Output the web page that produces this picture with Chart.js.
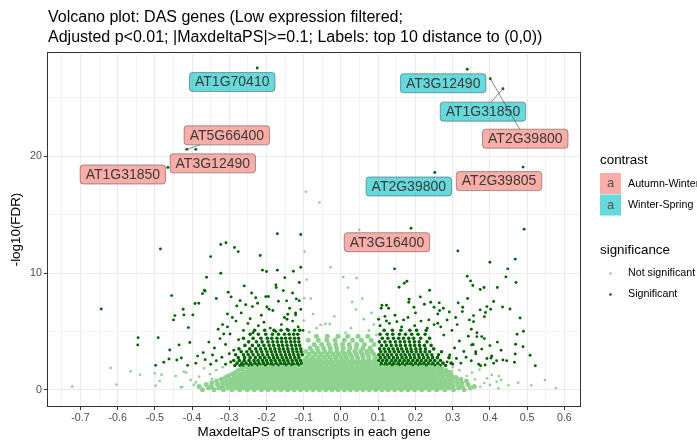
<!DOCTYPE html>
<html>
<head>
<meta charset="utf-8">
<script src="https://cdn.jsdelivr.net/npm/chart.js@4.4.1/dist/chart.umd.min.js"></script>
<style>
  html, body { margin: 0; padding: 0; background: #fff; }
</style>
</head>
<body>
<canvas id="Chart" width="697" height="441"></canvas>
<script>
// axis breaks
const xTicks = [-0.7, -0.6, -0.5, -0.4, -0.3, -0.2, -0.1, 0, 0.1, 0.2, 0.3, 0.4, 0.5, 0.6];
const xMinorTicks = [-0.75, -0.65, -0.55, -0.45, -0.35, -0.25, -0.15, -0.05, 0.05, 0.15, 0.25, 0.35, 0.45, 0.55];
const yTicks = [0, 10, 20];
const yMinorTicks = [5, 15, 25];

const contrastLevels = ["Autumn-Winter", "Winter-Spring"];
const significanceLevels = ["Not significant", "Significant"];

// labelled genes (top 10 distance to (0,0))
const labelGene = ["AT1G70410", "AT5G66400", "AT3G12490", "AT1G31850", "AT3G12490",
  "AT1G31850", "AT2G39800", "AT2G39800", "AT2G39805", "AT3G16400"];
const labelContrast = ["Winter-Spring", "Autumn-Winter", "Autumn-Winter", "Autumn-Winter", "Winter-Spring",
  "Winter-Spring", "Autumn-Winter", "Winter-Spring", "Autumn-Winter", "Autumn-Winter"];
const labelX = [-0.225, -0.414, -0.39, -0.465, 0.339, 0.435, 0.401, 0.252, 0.489, 0.188];
const labelY = [27.56, 20.6, 20.6, 19.05, 27.46, 25.8, 26.65, 18.62, 19.08, 13.85];

// not significant: dense band, rows of [y, [x...]]
const notSigRows = [
  [0.03, [-0.372,-0.341,-0.316,-0.293,-0.272,-0.252,-0.233,-0.214,-0.196,-0.178,-0.161,-0.143,-0.126,-0.109,-0.092,-0.075,-0.058,-0.041,-0.024,-0.008,0.009,0.025,0.042,0.059,0.076,0.093,0.11,0.127,0.144,0.162,0.18,0.198,0.217,0.237,0.257,0.279,0.302,0.331]],
  [0.17, [-0.356,-0.328,-0.304,-0.282,-0.262,-0.243,-0.224,-0.205,-0.187,-0.169,-0.152,-0.134,-0.117,-0.1,-0.083,-0.066,-0.05,-0.033,-0.016,0.001,0.017,0.034,0.05,0.067,0.084,0.101,0.118,0.135,0.153,0.171,0.189,0.207,0.227,0.247,0.268,0.29,0.316,0.347]],
  [0.31, [-0.381,-0.348,-0.318,-0.295,-0.274,-0.254,-0.235,-0.216,-0.197,-0.179,-0.161,-0.144,-0.127,-0.11,-0.093,-0.076,-0.059,-0.042,-0.025,-0.009,0.008,0.024,0.041,0.058,0.075,0.092,0.109,0.126,0.143,0.161,0.179,0.197,0.216,0.236,0.256,0.278,0.301,0.326,0.358]],
  [0.46, [-0.362,-0.332,-0.307,-0.285,-0.264,-0.244,-0.225,-0.206,-0.188,-0.17,-0.153,-0.135,-0.118,-0.101,-0.084,-0.067,-0.051,-0.034,-0.017,0.0,0.016,0.033,0.049,0.066,0.083,0.1,0.117,0.134,0.152,0.17,0.188,0.206,0.226,0.246,0.267,0.289,0.313,0.341]],
  [0.61, [-0.347,-0.319,-0.296,-0.275,-0.255,-0.236,-0.217,-0.198,-0.18,-0.162,-0.145,-0.128,-0.111,-0.094,-0.077,-0.06,-0.043,-0.026,-0.01,0.007,0.023,0.04,0.057,0.074,0.091,0.108,0.125,0.142,0.16,0.178,0.196,0.215,0.235,0.255,0.277,0.299,0.324]],
  [0.76, [-0.334,-0.308,-0.286,-0.265,-0.245,-0.226,-0.207,-0.189,-0.171,-0.154,-0.136,-0.119,-0.102,-0.085,-0.068,-0.052,-0.035,-0.018,-0.001,0.015,0.032,0.048,0.065,0.082,0.099,0.116,0.133,0.151,0.169,0.187,0.205,0.225,0.245,0.266,0.288,0.311,0.337]],
  [0.91, [-0.321,-0.297,-0.276,-0.256,-0.237,-0.218,-0.199,-0.181,-0.163,-0.146,-0.129,-0.112,-0.095,-0.078,-0.061,-0.044,-0.027,-0.011,0.006,0.022,0.039,0.056,0.073,0.09,0.107,0.124,0.141,0.159,0.177,0.195,0.214,0.234,0.254,0.276,0.298,0.322]],
  [1.06, [-0.31,-0.287,-0.266,-0.246,-0.227,-0.208,-0.19,-0.172,-0.155,-0.137,-0.12,-0.103,-0.086,-0.069,-0.053,-0.036,-0.019,-0.002,0.014,0.031,0.047,0.064,0.081,0.098,0.115,0.132,0.15,0.168,0.186,0.204,0.224,0.244,0.265,0.287,0.309]],
  [1.21, [-0.302,-0.277,-0.257,-0.238,-0.219,-0.2,-0.182,-0.164,-0.147,-0.13,-0.113,-0.096,-0.079,-0.062,-0.045,-0.028,-0.012,0.005,0.021,0.038,0.055,0.072,0.089,0.106,0.123,0.14,0.158,0.176,0.194,0.213,0.233,0.253,0.274,0.297]],
  [1.36, [-0.291,-0.268,-0.248,-0.228,-0.209,-0.191,-0.173,-0.156,-0.138,-0.121,-0.104,-0.087,-0.07,-0.054,-0.037,-0.02,-0.003,0.013,0.03,0.046,0.063,0.08,0.097,0.114,0.131,0.149,0.167,0.185,0.203,0.222,0.242,0.263,0.285]],
  [1.51, [-0.283,-0.259,-0.239,-0.22,-0.201,-0.183,-0.165,-0.148,-0.131,-0.114,-0.097,-0.08,-0.063,-0.046,-0.029,-0.013,0.004,0.02,0.037,0.054,0.071,0.088,0.105,0.122,0.139,0.157,0.175,0.193,0.212,0.231,0.251,0.273,0.294]],
  [1.66, [-0.276,-0.25,-0.229,-0.21,-0.192,-0.174,-0.157,-0.139,-0.122,-0.105,-0.088,-0.071,-0.055,-0.038,-0.021,-0.004,0.012,0.029,0.045,0.062,0.079,0.096,0.113,0.13,0.148,0.166,0.184,0.202,0.221,0.241,0.262,0.283]],
  [1.81, [-0.267,-0.242,-0.221,-0.202,-0.184,-0.166,-0.149,-0.132,-0.115,-0.098,-0.081,-0.064,-0.047,-0.03,-0.014,0.003,0.019,0.036,0.053,0.07,0.087,0.104,0.121,0.138,0.156,0.174,0.192,0.211,0.23,0.25,0.271]],
  [1.95, [-0.255,-0.232,-0.212,-0.193,-0.175,-0.158,-0.14,-0.123,-0.106,-0.089,-0.072,-0.056,-0.039,-0.022,-0.005,0.011,0.028,0.044,0.061,0.078,0.095,0.112,0.129,0.147,0.165,0.183,0.201,0.22,0.239,0.26]],
  [2.15, [-0.097,-0.082,-0.068,-0.054,-0.041,-0.027,-0.013,0.001,0.015,0.029,0.043,0.057,0.071,0.085,0.098]],
  [2.35, [-0.09,-0.075,-0.061,-0.047,-0.034,-0.02,-0.006,0.008,0.022,0.036,0.05,0.064,0.078,0.092]],
  [2.55, [-0.098,-0.083,-0.069,-0.055,-0.04,-0.026,-0.012,0.003,0.017,0.031,0.046,0.06,0.074,0.089]],
  [2.8, [-0.092,-0.076,-0.06,-0.045,-0.03,-0.015,0.0,0.014,0.029,0.044,0.059,0.075,0.093]],
  [3.05, [-0.086,-0.069,-0.053,-0.037,-0.021,-0.006,0.01,0.025,0.041,0.057,0.072,0.088]],
  [3.3, [-0.095,-0.077,-0.061,-0.044,-0.028,-0.011,0.005,0.021,0.037,0.053,0.069,0.083]],
  [3.6, [-0.083,-0.064,-0.047,-0.029,-0.012,0.006,0.024,0.041,0.059,0.078]],
  [3.9, [-0.072,-0.052,-0.033,-0.014,0.004,0.022,0.042,0.063,0.089]],
  [4.25, [-0.088,-0.061,-0.038,-0.016,0.009,0.031,0.055,0.081]],
  [4.6, [-0.066,-0.037,-0.008,0.018,0.046,0.072]]
];

// not significant: scattered points [x, y]
const notSigPoints = [
  [-0.422,1.57],[-0.444,1.2],[-0.404,0.86],[-0.426,0.28],[-0.395,0.43],[-0.368,1.86],[-0.381,1.14],[-0.341,0.15],
  [-0.416,1.49],[-0.43,0.23],[-0.5,1.43],[-0.482,1.31],[-0.487,0.77],[-0.498,0.37],[-0.619,1.89],[-0.565,1.6],
  [-0.54,1.31],[-0.603,0.46],[-0.722,0.29],[-0.352,1.35],[-0.335,1.7],[-0.318,1.95],[-0.346,0.95],[-0.39,0.65],
  [0.548,0.86],[0.577,0.17],[0.511,0.4],[0.476,0.63],[0.424,1.2],[0.43,0.86],[0.45,0.4],[0.4,0.43],[0.423,0.15],
  [0.392,1.0],[0.418,0.71],[0.405,1.29],[0.374,0.28],[0.36,0.9],[0.352,1.5],[0.338,1.2],[0.318,1.7],[0.3,1.95],
  [0.372,1.75],[0.385,0.6],
  [-0.094,16.97],[-0.058,16.05],[-0.098,11.85],[-0.028,10.51],[-0.092,9.45],[0.049,13.7],[0.006,9.66],[0.042,9.57],
  [0.019,8.77],[-0.081,7.83],[0.03,7.54],[0.057,7.83],[-0.099,7.86],[-0.1,5.94],[-0.055,5.57],[-0.042,5.66],
  [-0.03,5.66],[0.061,6.06],[0.027,5.29],[-0.066,5.29],[0.075,5.1],[0.088,5.6],[-0.085,4.95],[0.012,4.9],
  [-0.018,6.3],[0.082,6.6],[-0.075,6.5],[0.095,4.7],[0.04,6.9]
];

// significant: dense clusters, rows of [y, [x...]]
const sigRows = [
  [2.1, [-0.285,-0.271,-0.262,-0.249,-0.238,-0.226,-0.214,-0.203,-0.191,-0.18,-0.169,-0.157,-0.146,-0.134,-0.123,-0.112,
         0.103,0.114,0.125,0.137,0.148,0.159,0.171,0.183,0.194,0.206,0.218,0.229,0.241,0.253,0.266,0.281]],
  [2.3, [-0.279,-0.266,-0.255,-0.243,-0.231,-0.22,-0.208,-0.197,-0.186,-0.174,-0.162,-0.151,-0.14,-0.129,-0.117,-0.106,
         0.108,0.12,0.131,0.142,0.154,0.165,0.177,0.188,0.2,0.212,0.223,0.235,0.247,0.26,0.274,0.296]],
  [2.52, [-0.288,-0.273,-0.26,-0.247,-0.234,-0.223,-0.211,-0.2,-0.188,-0.177,-0.165,-0.154,-0.143,-0.131,-0.12,-0.109,
         0.101,0.112,0.123,0.136,0.147,0.158,0.17,0.181,0.193,0.205,0.216,0.228,0.24,0.252,0.267]],
  [2.77, [-0.276,-0.259,-0.244,-0.23,-0.217,-0.205,-0.193,-0.181,-0.17,-0.158,-0.147,-0.136,-0.124,-0.113,
         0.106,0.118,0.129,0.141,0.152,0.164,0.175,0.187,0.198,0.21,0.222,0.234,0.246,0.259,0.29]],
  [3.02, [-0.283,-0.262,-0.249,-0.236,-0.222,-0.21,-0.197,-0.184,-0.173,-0.161,-0.149,-0.138,-0.127,-0.115,-0.104,
         0.102,0.113,0.125,0.136,0.149,0.161,0.172,0.184,0.196,0.208,0.219,0.231,0.244,0.262]],
  [3.27, [-0.268,-0.253,-0.24,-0.226,-0.213,-0.199,-0.187,-0.176,-0.164,-0.152,-0.141,-0.129,-0.118,-0.107,
         0.107,0.119,0.131,0.143,0.155,0.167,0.179,0.19,0.202,0.214,0.226,0.238,0.27]],
  [3.52, [-0.274,-0.245,-0.229,-0.216,-0.203,-0.19,-0.178,-0.166,-0.155,-0.143,-0.131,-0.12,-0.108,
         0.104,0.116,0.128,0.14,0.152,0.163,0.176,0.188,0.201,0.213,0.227,0.249]],
  [3.82, [-0.258,-0.238,-0.221,-0.207,-0.193,-0.181,-0.168,-0.157,-0.145,-0.133,-0.122,-0.111,
         0.109,0.122,0.135,0.148,0.16,0.173,0.186,0.198,0.211,0.224,0.242]],
  [4.12, [-0.248,-0.227,-0.212,-0.196,-0.183,-0.171,-0.159,-0.147,-0.135,-0.124,-0.113,
         0.103,0.118,0.132,0.146,0.159,0.171,0.184,0.197,0.21,0.231]],
  [4.43, [-0.262,-0.236,-0.215,-0.198,-0.186,-0.172,-0.16,-0.149,-0.137,-0.125,-0.114,
         0.111,0.126,0.141,0.155,0.168,0.182,0.195,0.214,0.238]],
  [4.77, [-0.244,-0.222,-0.202,-0.184,-0.168,-0.152,-0.139,-0.127,-0.116,
         0.105,0.124,0.139,0.157,0.173,0.19,0.207,0.226]],
  [5.12, [-0.232,-0.205,-0.18,-0.161,-0.142,-0.125,-0.111,
         0.116,0.138,0.161,0.185,0.203,0.229]]
];

// significant: scattered points [x, y]
const sigPoints = [
  [-0.485,12.08],[-0.644,6.94],[-0.455,8.08],[-0.545,4.48],[-0.546,3.86],[-0.491,4.48],[-0.498,2.11],[-0.476,2.37],
  [-0.46,3.43],[-0.462,2.66],[-0.435,3.86],[-0.45,6.0],[-0.446,6.37],[-0.424,6.91],[-0.422,6.43],[-0.41,5.34],
  [-0.406,4.06],[-0.441,2.57],[-0.429,2.74],[-0.412,2.11],[-0.398,6.43],[-0.392,7.4],[-0.382,7.43],[-0.367,8.54],
  [-0.361,9.65],[-0.35,11.42],[-0.335,7.83],[-0.323,12.45],[-0.323,10.0],[-0.309,12.6],[-0.286,12.2],[-0.276,11.85],
  [-0.303,8.37],[-0.295,7.97],[-0.271,7.65],[-0.26,8.91],[-0.217,11.51],[-0.211,10.26],[-0.2,10.14],[-0.171,13.37],
  [-0.171,10.26],[-0.151,9.62],[-0.128,10.17],[-0.108,13.31],[-0.108,10.51],[-0.174,8.77],[-0.155,8.51],[-0.202,7.99],
  [-0.238,7.14],[-0.224,7.43],[-0.193,6.91],[-0.146,7.63],[-0.112,9.2],[-0.112,7.65],[-0.143,6.49],[-0.145,6.06],
  [-0.122,6.43],[-0.365,8.48],[-0.372,8.25],
  [-0.37,3.2],[-0.355,4.1],[-0.34,3.6],[-0.33,5.2],[-0.325,4.4],[-0.318,5.6],[-0.31,3.9],[-0.305,5.4],[-0.298,4.8],
  [-0.292,6.2],[-0.288,3.4],[-0.282,5.9],[-0.275,4.3],[-0.268,6.6],[-0.262,5.1],[-0.256,7.3],[-0.25,5.7],[-0.244,6.1],
  [-0.236,4.9],[-0.229,7.9],[-0.222,5.5],[-0.214,6.4],[-0.207,5.8],[-0.199,7.1],[-0.19,5.3],[-0.183,6.8],[-0.175,5.0],
  [-0.168,7.6],[-0.16,5.6],[-0.152,6.2],[-0.145,5.2],[-0.138,7.0],[-0.13,5.9],[-0.122,6.6],[-0.115,5.4],[-0.108,6.9],
  [-0.102,5.1],[-0.39,2.3],[-0.385,2.9],[-0.365,2.6],[-0.35,2.2],[-0.345,3.0],[-0.335,2.5],[-0.32,2.8],[-0.31,2.2],
  [-0.3,3.1],[-0.296,2.4],[-0.315,4.8],[-0.305,6.5],[-0.28,7.2],[-0.24,8.3],[-0.195,8.0],[-0.175,9.0],[-0.13,8.3],[-0.12,7.8],
  [0.492,13.77],[0.314,11.91],[0.468,11.2],[0.4,10.94],[0.448,10.37],[0.144,10.37],[0.339,9.74],[0.348,9.34],
  [0.354,8.94],[0.374,8.6],[0.384,8.77],[0.42,8.77],[0.443,9.68],[0.47,9.2],[0.156,8.8],[0.17,9.14],[0.177,9.31],
  [0.238,8.54],[0.454,6.94],[0.434,7.11],[0.481,6.17],[0.49,5.03],[0.473,4.77],[0.469,3.92],[0.489,3.71],[0.468,3.08],
  [0.508,2.97],[0.466,2.37],[0.522,2.08],[0.403,2.74],[0.375,2.08],[0.402,6.91],[0.392,7.14],[0.41,7.57],[0.388,6.63],
  [0.356,6.37],[0.345,6.0],[0.326,6.71],[0.374,6.86],[0.315,7.46],[0.34,7.83],[0.327,7.08],[0.308,6.2],[0.275,7.0],
  [0.264,7.46],[0.241,7.51],[0.224,7.34],[0.213,7.97],[0.183,7.77],[0.182,7.51],[0.11,7.26],[0.122,7.26],[0.196,7.08],
  [0.25,7.08],[0.291,6.68],[0.101,6.06],[0.122,5.91],[0.15,5.85],[0.168,6.0],[0.236,6.0],[0.26,5.71],[0.418,2.51],
  [0.435,2.57],[0.405,2.91],[0.387,2.14],[0.378,4.57],[0.385,6.28],[0.356,5.85],[0.365,4.57],[0.351,3.86],[0.362,3.28],
  [0.285,2.4],[0.292,3.0],[0.3,2.2],[0.305,3.6],[0.31,2.7],[0.318,4.2],[0.322,2.3],[0.33,3.3],[0.336,2.8],[0.342,4.6],
  [0.35,2.5],[0.355,3.9],[0.362,3.1],[0.37,2.2],[0.378,3.5],[0.385,4.4],[0.392,2.7],[0.4,3.8],[0.41,2.3],[0.42,4.1],
  [0.298,5.1],[0.312,5.6],[0.276,4.7],[0.268,5.4],[0.285,6.0],[0.25,5.6],[0.232,5.3],[0.215,5.9],[0.198,5.5],[0.18,6.2],
  [0.163,5.4],[0.145,6.4],[0.13,5.7],[0.118,6.3],[0.105,5.5],[0.26,6.5],[0.35,5.2],[0.365,4.9],[0.43,3.4],[0.445,2.5],
  [0.108,7.0],[0.128,7.0],[0.2,6.6],[0.265,6.8]
];

// ggrepel-like placement of each label box relative to its point (px)
const labelNudge = [[-25, 14], [40, -14], [17, 14], [-45, 7], [-24, 14], [-20, 23], [35, 60], [-26, 14], [-24, 14], [-24, 14]];

const FONT = '"Liberation Sans", Arial, Helvetica, sans-serif';
const LIGHT = "#8fd290";
const DARK = "#006400";
const FILL = { "Autumn-Winter": "rgba(248,118,109,0.6)", "Winter-Spring": "rgba(0,191,196,0.6)" };

const rowsToPoints = (rows) => rows.flatMap(([y, xs]) => xs.map((x) => ({ x, y })));
const pairsToPoints = (pairs) => pairs.map(([x, y]) => ({ x, y }));

const buildTicks = (major, minor) => (scale) => {
  scale.ticks = major.map((v) => ({ value: v, minor: false }))
    .concat(minor.map((v) => ({ value: v, minor: true })))
    .sort((a, b) => a.value - b.value);
};

const gridOpts = {
  color: (c) => (c.tick && c.tick.minor ? "#f3f3f3" : "#ebebeb"),
  lineWidth: 1,
  tickLength: 4,
  tickColor: (c) => (c.tick && c.tick.minor ? "rgba(0,0,0,0)" : "#333333"),
};

const decorations = {
  id: "decorations",
  afterDatasetsDraw(chart) {
    const { ctx, chartArea: ca, scales } = chart;
    ctx.save();
    // repel labels
    ctx.font = "14px " + FONT;
    labelGene.forEach((gene, i) => {
      const px = scales.x.getPixelForValue(labelX[i]);
      const py = scales.y.getPixelForValue(labelY[i]);
      const cx = px + labelNudge[i][0];
      const cy = py + labelNudge[i][1];
      const w = ctx.measureText(gene).width + 11;
      const h = 19;
      // segment to the box edge when the label sits far away
      const dx = px - cx, dy = py - cy;
      const t = Math.min(Math.abs((w / 2) / (dx || 1e-9)), Math.abs((h / 2) / (dy || 1e-9)));
      const ex = cx + dx * t, ey = cy + dy * t;
      if (t < 1 && Math.hypot(px - ex, py - ey) > 10) {
        ctx.strokeStyle = "#555";
        ctx.lineWidth = 0.7;
        ctx.beginPath();
        ctx.moveTo(px, py);
        ctx.lineTo(ex, ey);
        ctx.stroke();
      }
      ctx.beginPath();
      ctx.roundRect(cx - w / 2, cy - h / 2, w, h, 3);
      ctx.fillStyle = FILL[labelContrast[i]];
      ctx.fill();
      ctx.strokeStyle = "rgba(60,60,60,0.6)";
      ctx.lineWidth = 0.8;
      ctx.stroke();
      ctx.fillStyle = "#3a3a3a";
      ctx.textAlign = "center";
      ctx.textBaseline = "middle";
      ctx.fillText(gene, cx, cy + 0.5);
    });
    // panel border
    ctx.strokeStyle = "#333333";
    ctx.lineWidth = 1;
    ctx.strokeRect(Math.round(ca.left) - 0.5, Math.round(ca.top) - 0.5,
      Math.round(ca.right - ca.left) + 1, Math.round(ca.bottom - ca.top) + 1);
    ctx.restore();
  },
  afterDraw(chart) {
    const { ctx } = chart;
    ctx.save();
    // title
    ctx.fillStyle = "#000";
    ctx.textAlign = "left";
    ctx.textBaseline = "alphabetic";
    ctx.font = "16px " + FONT;
    ctx.fillText("Volcano plot: DAS genes (Low expression filtered;", 48, 22);
    ctx.fillText("Adjusted p<0.01; |MaxdeltaPS|>=0.1; Labels: top 10 distance to (0,0))", 48, 42);
    // legend: contrast
    ctx.textBaseline = "middle";
    ctx.font = "13.4px " + FONT;
    ctx.fillText("contrast", 600, 160);
    contrastLevels.forEach((lev, i) => {
      const top = 173 + i * 21.5;
      ctx.fillStyle = FILL[lev];
      ctx.fillRect(600, top, 21, 21);
      ctx.fillStyle = "#555";
      ctx.textAlign = "center";
      ctx.font = "13px " + FONT;
      ctx.fillText("a", 610.5, top + 10.5);
      ctx.fillStyle = "#000";
      ctx.textAlign = "left";
      ctx.font = "10.7px " + FONT;
      ctx.fillText(lev, 628, top + 11);
    });
    // legend: significance
    ctx.font = "13.4px " + FONT;
    ctx.fillText("significance", 600, 250);
    significanceLevels.forEach((lev, i) => {
      const cy = 273.5 + i * 21;
      ctx.fillStyle = i === 0 ? LIGHT : DARK;
      ctx.beginPath();
      ctx.arc(610.5, cy, 1.3, 0, Math.PI * 2);
      ctx.fill();
      ctx.fillStyle = "#000";
      ctx.font = "10.7px " + FONT;
      ctx.fillText(lev, 628, cy);
    });
    ctx.restore();
  },
};

const pointSet = (data, color, r) => ({
  data,
  backgroundColor: color,
  borderWidth: 0,
  pointRadius: r,
  pointHoverRadius: r,
});

new Chart(document.getElementById("Chart").getContext("2d"), {
  type: "scatter",
  data: {
    datasets: [
      pointSet(rowsToPoints(notSigRows), LIGHT, 2.5),
      pointSet(pairsToPoints(notSigPoints), LIGHT, 1.35),
      pointSet(rowsToPoints(sigRows), DARK, 1.8),
      pointSet(pairsToPoints(sigPoints), DARK, 1.45),
      pointSet(labelX.map((x, i) => ({ x, y: labelY[i] })), DARK, 1.45),
    ],
  },
  options: {
    responsive: false,
    animation: false,
    devicePixelRatio: 1,
    events: [],
    layout: { padding: { left: 0, right: 117, top: 53, bottom: 0 } },
    plugins: { legend: { display: false }, tooltip: { enabled: false } },
    scales: {
      x: {
        type: "linear",
        min: -0.787,
        max: 0.642,
        afterBuildTicks: buildTicks(xTicks, xMinorTicks),
        afterFit: (s) => { s.height = 35; },
        border: { display: false },
        grid: gridOpts,
        ticks: {
          autoSkip: false,
          maxRotation: 0,
          padding: 2,
          color: "#4d4d4d",
          font: { family: FONT, size: 10.7 },
          callback: (v, i, ticks) => (ticks[i].minor ? "" : v.toFixed(1)),
        },
        title: {
          display: true,
          text: "MaxdeltaPS of transcripts in each gene",
          color: "#000",
          font: { family: FONT, size: 13.4 },
          padding: { top: 0, bottom: 1 },
        },
      },
      y: {
        type: "linear",
        min: -1.37,
        max: 28.85,
        afterBuildTicks: buildTicks(yTicks, yMinorTicks),
        afterFit: (s) => { s.width = 48; },
        border: { display: false },
        grid: gridOpts,
        ticks: {
          autoSkip: false,
          padding: 2,
          color: "#4d4d4d",
          font: { family: FONT, size: 10.7 },
          callback: (v, i, ticks) => (ticks[i].minor ? "" : String(v)),
        },
        title: {
          display: true,
          text: "-log10(FDR)",
          color: "#000",
          font: { family: FONT, size: 13.4 },
          padding: { top: 8, bottom: 0 },
        },
      },
    },
  },
  plugins: [decorations],
});
</script>
</body>
</html>
